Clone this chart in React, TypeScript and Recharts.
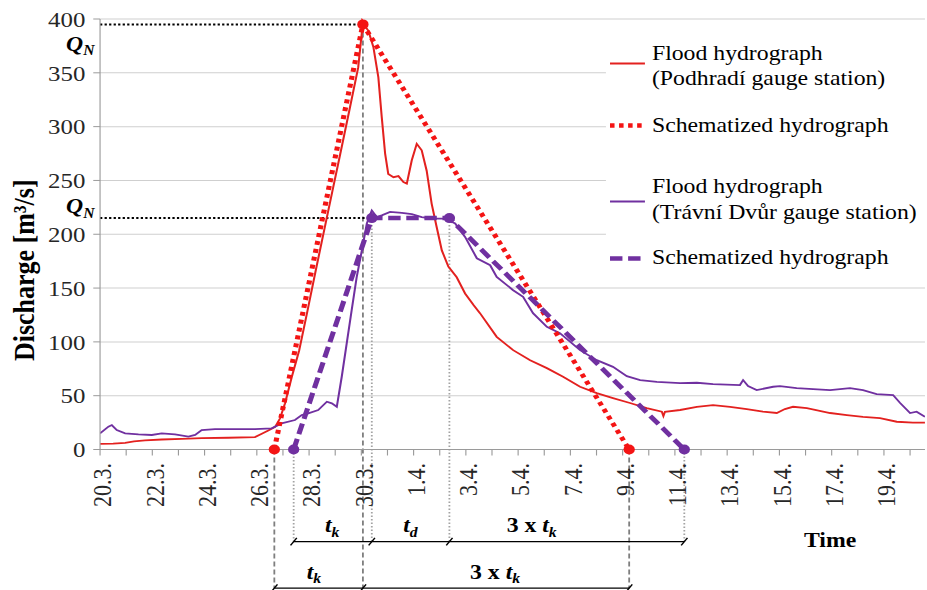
import React from 'react';
import {
  LineChart,
  Line,
  XAxis,
  YAxis,
  CartesianGrid,
  ReferenceLine,
  ReferenceDot,
  Legend,
} from 'recharts';

// Time axis: days counted from 20 March, 00:00
const dateLabels = [
  '20.3.', '21.3.', '22.3.', '23.3.', '24.3.', '25.3.', '26.3.', '27.3.',
  '28.3.', '29.3.', '30.3.', '31.3.', '1.4.', '2.4.', '3.4.', '4.4.',
  '5.4.', '6.4.', '7.4.', '8.4.', '9.4.', '10.4.', '11.4.', '12.4.',
  '13.4.', '14.4.', '15.4.', '16.4.', '17.4.', '18.4.', '19.4.', '20.4.',
];
const dayTicks = dateLabels.map((_, i) => i);
const flowTicks = [0, 50, 100, 150, 200, 250, 300, 350, 400];

// Flood hydrograph, Podhradí gauge station
const podhradiDays = [
  0, 0.5, 0.96, 1.3, 1.72, 2.36, 3.13, 3.89, 4.9, 5.93,
  6.19, 6.44, 6.7, 6.89, 7.08, 7.34, 7.62, 7.94, 8.26, 8.58,
  8.9, 9.17, 9.54, 9.88, 10.03, 10.06, 10.27, 10.46, 10.65, 10.78,
  10.91, 11.03, 11.23, 11.42, 11.61, 11.74, 11.93, 12.12, 12.31, 12.5,
  12.69, 12.88, 13.08, 13.33, 13.65, 13.97, 14.3, 14.54, 15.18, 15.81,
  16.46, 17.1, 17.72, 18.37, 19.01, 19.63, 20.28, 20.92, 21.5, 21.56,
  21.62, 22.2, 22.84, 23.46, 24.11, 24.75, 25.37, 25.9, 26.21, 26.52,
  27.05, 27.94, 28.58, 29.2, 29.85, 30.49, 31.11, 31.57,
];
const podhradiFlow = [
  5.3, 5.5, 6.2, 7.5, 8.4, 9.3, 9.9, 10.5, 10.9, 11.5,
  14.6, 17.7, 21, 29, 43, 67.6, 92, 129, 167, 204,
  241, 272, 315, 355, 390, 396, 389, 374, 346, 309,
  275, 256, 253, 254, 248.5, 247, 268.7, 284, 278, 259,
  228.5, 207, 185, 170, 160, 145, 134, 126.7, 104.7, 92.3,
  83, 75.6, 67.5, 58.3, 52.4, 47.8, 43.2, 38.5, 35.1, 31,
  35, 36.7, 39.7, 41.3, 39.7, 37.6, 35.1, 33.9, 37.6, 39.7,
  38.5, 33.9, 32, 30.4, 29.2, 25.8, 24.9, 24.9,
];

// Flood hydrograph, Trávní Dvůr gauge station
const travniDays = [
  0, 0.32, 0.45, 0.64, 0.96, 1.47, 1.98, 2.36, 2.87, 3.38,
  3.64, 3.89, 4.4, 4.91, 5.93, 6.57, 6.95, 7.46, 7.72, 7.97,
  8.35, 8.68, 8.87, 9.06, 9.25, 9.44, 9.63, 9.82, 10.02, 10.21,
  10.4, 10.59, 10.78, 11.1, 11.55, 11.93, 12.31, 12.69, 13.2, 13.59,
  13.97, 14.42, 14.93, 15.18, 15.81, 16.19, 16.57, 17.1, 17.6, 18.37,
  19.01, 19.63, 20.16, 20.67, 21.31, 22.2, 22.84, 23.46, 24.49, 24.61,
  24.8, 25.13, 25.76, 26.02, 26.66, 27.29, 27.94, 28.7, 29.2, 29.72,
  30.35, 30.62, 31.0, 31.25, 31.57,
];
const travniFlow = [
  15, 21.2, 22.7, 18.1, 15, 14.1, 13.5, 15, 14.1, 11.9,
  13.5, 18.1, 19, 19, 19, 19.7, 24.3, 27.4, 32, 33.6,
  36.7, 44.4, 42.9, 39.7, 67.6, 98.6, 129.5, 160, 185, 210,
  222, 216, 217.6, 220.7, 219.8, 218.6, 216, 214.6, 214.6, 210,
  197.5, 177.7, 171.2, 160.4, 148, 141.8, 126.7, 114, 108.1, 92.3,
  83, 76.8, 68.2, 64.5, 62.9, 61.7, 62, 60.8, 59.9, 64.5,
  59, 55.2, 58.3, 58.9, 57.1, 56.1, 55.2, 57.1, 55.2, 51.5,
  50.6, 43.2, 33.9, 35.1, 30.4,
];

// Schematized hydrographs (rise t_k, plateau t_d, recession 3 x t_k)
const schemPodhradiDays = [6.67, 10.06, 20.25];
const schemPodhradiFlow = [0, 395, 0];
const schemTravniDays = [7.41, 10.4, 13.37, 22.36];
const schemTravniFlow = [0, 215, 215, 0];

// Peak discharges Q_N
const qnPodhradi = 395;
const qnTravni = 215;

// Levels (in discharge units, below the time axis) of the duration brackets
const upperBracket = -85.6;
const lowerBracket = -128.8;

const toSeries = (days: number[], flow: number[]) =>
  days.map((d, i) => ({ day: d, q: flow[i] }));

const podhradiData = toSeries(podhradiDays, podhradiFlow);
const travniData = toSeries(travniDays, travniFlow);
const schemPodhradiData = toSeries(schemPodhradiDays, schemPodhradiFlow);
const schemTravniData = toSeries(schemTravniDays, schemTravniFlow);

const FONT = "'Liberation Serif', 'Times New Roman', Times, serif";
const RED = '#e3211f';
const RED_DOT = '#f41414';
const PURPLE = '#7030a0';
const GRID = '#cfcfcf';
const AXIS = '#9a9a9a';
const TEXT = '#262626';

const W = 820;
const H = 590;
const SX = 927 / W;

const DateTick = (props: any) => {
  const { x, y, payload } = props;
  const i = payload.value as number;
  if (i % 2 !== 0) return null;
  return (
    <g transform={`translate(${x},${y})`}>
      <text
        x={0}
        y={0}
        dy="0.45em"
        transform="rotate(-90)"
        textAnchor="end"
        fontFamily={FONT}
        fontSize={22}
        fill={TEXT}
      >
        {dateLabels[i]}
      </text>
    </g>
  );
};

const makeDot = (color: string) => (p: any) => (
  <circle key={`d-${p.index}`} cx={p.cx} cy={p.cy} r={5} fill={color} stroke="none" />
);

type Label = { prefix?: string; base: string; sub: string; size?: number };

const richText = (lab: Label, anchor: 'start' | 'middle' = 'start') => (p: any) => {
  const size = lab.size ?? 21;
  return (
    <text
      x={p.cx}
      y={p.cy}
      textAnchor={anchor}
      fontFamily={FONT}
      fontWeight="bold"
      fontSize={size}
      fill="#000"
    >
      {lab.prefix ? <tspan>{lab.prefix}</tspan> : null}
      <tspan fontStyle="italic">{lab.base}</tspan>
      <tspan fontStyle="italic" fontSize={size * 0.66} dy={size * 0.22}>
        {lab.sub}
      </tspan>
    </text>
  );
};

const plainText = (value: string, size: number) => (p: any) => (
  <text x={p.cx} y={p.cy} textAnchor="middle" fontFamily={FONT} fontWeight="bold" fontSize={size} fill="#000">
    {value}
  </text>
);

const legendEntries = [
  { lines: ['Flood hydrograph', '(Podhradí gauge station)'], color: RED, dash: undefined, width: 1.8 },
  { lines: ['Schematized hydrograph'], color: RED_DOT, dash: '4 4', width: 4.5 },
  { lines: ['Flood hydrograph', '(Trávní Dvůr gauge station)'], color: PURPLE, dash: undefined, width: 1.8 },
  { lines: ['Schematized hydrograph'], color: PURPLE, dash: '11 5', width: 4.5 },
];
const legendRows = [
  { swatchY: 35.5, baselines: [32, 57.5] },
  { swatchY: 97.5, baselines: [104] },
  { swatchY: 173.5, baselines: [165.5, 191] },
  { swatchY: 230.5, baselines: [236.5] },
];

const renderLegend = () => (
  <svg width={284} height={250} style={{ display: 'block' }}>
    {legendEntries.map((e, k) => (
      <g key={k}>
        <line
          x1={3.6}
          x2={34.5}
          y1={legendRows[k].swatchY}
          y2={legendRows[k].swatchY}
          stroke={e.color}
          strokeWidth={e.width}
          strokeDasharray={e.dash}
        />
        {e.lines.map((t, j) => (
          <text key={j} x={40.7} y={legendRows[k].baselines[j]} fontFamily={FONT} fontSize={21} fill="#000">
            {t}
          </text>
        ))}
      </g>
    ))}
  </svg>
);

const seg = (x1: number, y1: number, x2: number, y2: number) => [
  { x: x1, y: y1 },
  { x: x2, y: y2 },
];

export default function App() {
  const dashedGuides = [
    { x: schemPodhradiDays[0], from: 0 },
    { x: schemPodhradiDays[1], from: qnPodhradi },
    { x: schemPodhradiDays[2], from: 0 },
  ];
  const dottedGuides = [
    { x: schemTravniDays[0], from: 0 },
    { x: schemTravniDays[1], from: qnTravni },
    { x: schemTravniDays[2], from: qnTravni },
    { x: schemTravniDays[3], from: 0 },
  ];
  const slashes = [
    ...schemTravniDays.map((d) => ({ x: d, y: upperBracket })),
    ...schemPodhradiDays.map((d) => ({ x: d, y: lowerBracket })),
  ];

  return (
    <div style={{ position: 'absolute', left: 0, top: 0, width: 927, height: 590, overflow: 'hidden', background: '#fff' }}>
      <div style={{ width: W, height: H, transform: `scaleX(${SX})`, transformOrigin: '0 0' }}>
        <LineChart width={W} height={H} margin={{ top: 19, right: 1.8, bottom: 0, left: 0 }}>
          <CartesianGrid vertical={false} stroke={GRID} strokeWidth={1} />
          <XAxis
            dataKey="day"
            type="number"
            domain={[0, 31.57]}
            allowDataOverflow
            ticks={dayTicks}
            interval={0}
            height={140.5}
            tickSize={6}
            tickMargin={7.5}
            axisLine={{ stroke: AXIS }}
            tickLine={{ stroke: AXIS }}
            tick={(p: any) => <DateTick {...p} />}
          />
          <YAxis
            type="number"
            domain={[0, 400]}
            ticks={flowTicks}
            interval={0}
            width={88.5}
            tickSize={6}
            tickMargin={7}
            axisLine={{ stroke: AXIS }}
            tickLine={{ stroke: AXIS }}
            tick={{ fontFamily: FONT, fontSize: 22, fill: TEXT }}
            label={(p: any) => {
              const vb = p.viewBox;
              const cx = vb.x + 30;
              const cy = vb.y + vb.height / 2 + 36;
              return (
                <text
                  x={cx}
                  y={cy}
                  transform={`rotate(-90, ${cx}, ${cy})`}
                  textAnchor="middle"
                  fontFamily={FONT}
                  fontWeight="bold"
                  fontSize={26}
                  fill="#000"
                >
                  Discharge [m³/s]
                </text>
              );
            }}
          />
          <Legend
            layout="horizontal"
            verticalAlign="middle"
            align="center"
            content={renderLegend}
            wrapperStyle={{ left: 536, top: 28, width: 284, height: 250, background: '#fff' }}
          />

          {/* guide lines from the schematized hydrographs down to the duration brackets */}
          {dashedGuides.map((g, k) => (
            <ReferenceLine
              key={`dg-${k}`}
              segment={seg(g.x, g.from, g.x, lowerBracket)}
              stroke="#7f7f7f"
              strokeWidth={1.6}
              strokeDasharray="5 3"
              ifOverflow="visible"
            />
          ))}
          {dottedGuides.map((g, k) => (
            <ReferenceLine
              key={`tg-${k}`}
              segment={seg(g.x, g.from, g.x, upperBracket)}
              stroke="#a3a3a3"
              strokeWidth={1.6}
              strokeDasharray="1.5 2"
              ifOverflow="visible"
            />
          ))}

          {/* Q_N levels */}
          <ReferenceLine
            segment={seg(0, qnPodhradi, schemPodhradiDays[1], qnPodhradi)}
            stroke="#000"
            strokeWidth={2}
            strokeDasharray="2 2"
            ifOverflow="visible"
          />
          <ReferenceLine
            segment={seg(0, qnTravni, schemTravniDays[1], qnTravni)}
            stroke="#000"
            strokeWidth={2}
            strokeDasharray="2 2"
            ifOverflow="visible"
          />

          <Line
            data={podhradiData}
            dataKey="q"
            type="linear"
            stroke={RED}
            strokeWidth={1.8}
            dot={false}
            activeDot={false}
            isAnimationActive={false}
            legendType="none"
          />
          <Line
            data={travniData}
            dataKey="q"
            type="linear"
            stroke={PURPLE}
            strokeWidth={1.8}
            dot={false}
            activeDot={false}
            isAnimationActive={false}
            legendType="none"
          />
          <Line
            data={schemPodhradiData}
            dataKey="q"
            type="linear"
            stroke={RED_DOT}
            strokeWidth={4.5}
            strokeDasharray="4 4"
            dot={makeDot(RED_DOT)}
            activeDot={false}
            isAnimationActive={false}
            legendType="none"
          />
          <Line
            data={schemTravniData}
            dataKey="q"
            type="linear"
            stroke={PURPLE}
            strokeWidth={4.5}
            strokeDasharray="11 5"
            dot={makeDot(PURPLE)}
            activeDot={false}
            isAnimationActive={false}
            legendType="none"
          />

          {/* duration brackets */}
          <ReferenceLine
            segment={seg(schemTravniDays[0], upperBracket, schemTravniDays[3], upperBracket)}
            stroke="#000"
            strokeWidth={1.3}
            ifOverflow="visible"
          />
          <ReferenceLine
            segment={seg(schemPodhradiDays[0], lowerBracket, schemPodhradiDays[2], lowerBracket)}
            stroke="#000"
            strokeWidth={1.3}
            ifOverflow="visible"
          />
          {slashes.map((s, k) => (
            <ReferenceLine
              key={`sl-${k}`}
              segment={seg(s.x - 0.12, s.y - 3.5, s.x + 0.12, s.y + 3.5)}
              stroke="#000"
              strokeWidth={1.3}
              ifOverflow="visible"
            />
          ))}

          {/* texts */}
          <ReferenceDot x={-1.3} y={370.5} r={0} ifOverflow="visible" shape={richText({ base: 'Q', sub: 'N', size: 21 })} />
          <ReferenceDot x={-1.3} y={219.5} r={0} ifOverflow="visible" shape={richText({ base: 'Q', sub: 'N', size: 21 })} />
          <ReferenceDot x={8.61} y={-76.6} r={0} ifOverflow="visible" shape={richText({ base: 't', sub: 'k' })} />
          <ReferenceDot x={11.6} y={-76.6} r={0} ifOverflow="visible" shape={richText({ base: 't', sub: 'd' })} />
          <ReferenceDot x={15.56} y={-76.6} r={0} ifOverflow="visible" shape={richText({ prefix: '3 x ', base: 't', sub: 'k' })} />
          <ReferenceDot x={7.91} y={-120.2} r={0} ifOverflow="visible" shape={richText({ base: 't', sub: 'k' })} />
          <ReferenceDot x={14.16} y={-120.2} r={0} ifOverflow="visible" shape={richText({ prefix: '3 x ', base: 't', sub: 'k' })} />
          <ReferenceDot x={27.94} y={-90.2} r={0} ifOverflow="visible" shape={plainText('Time', 21)} />
        </LineChart>
      </div>
    </div>
  );
}
